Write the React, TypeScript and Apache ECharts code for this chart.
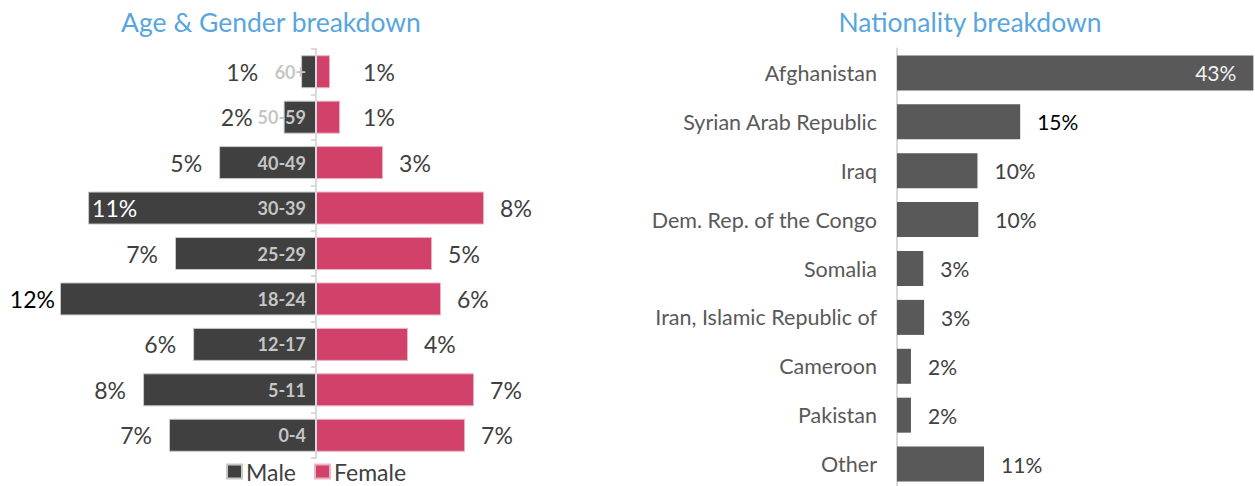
import React, { useEffect, useRef } from "react";
import * as echarts from "echarts";

const ageGroups = ["60+", "50-59", "40-49", "30-39", "25-29", "18-24", "12-17", "5-11", "0-4"];
const maleValues = [0.7, 1.52, 4.55, 10.7, 6.62, 12.02, 5.77, 8.12, 6.9];
const femaleValues = [0.66, 1.13, 3.15, 7.89, 5.45, 5.87, 4.32, 7.42, 7.0];

const countries = [
  "Afghanistan",
  "Syrian Arab Republic",
  "Iraq",
  "Dem. Rep. of the Congo",
  "Somalia",
  "Iran, Islamic Republic of",
  "Cameroon",
  "Pakistan",
  "Other",
];
const countryValues = [43.4, 15.0, 9.8, 9.9, 3.2, 3.3, 1.7, 1.7, 10.6];

const FONT = "Lato, 'Noto Sans', sans-serif";
const TITLE_BLUE = "#58a6dd";
const MALE = "#404040";
const FEMALE = "#d2416a";
const NAT = "#595959";

const pct = (v: number) => Math.round(Math.abs(v)) + "%";

export default function App() {
  const ref = useRef<HTMLDivElement>(null);
  useEffect(() => {
    if (!ref.current) return;
    const chart = echarts.init(ref.current, null, { renderer: "svg" });

    const maleLabelCfg: Record<number, any> = {
      0: { distance: 43 },
      1: { distance: 31 },
      3: { position: "insideLeft", distance: 4, color: "#ffffff" },
      5: { distance: 5, color: "#000000" },
    };
    const femaleLabelCfg: Record<number, any> = {
      0: { distance: 33 },
      1: { distance: 23 },
    };

    const maleData = maleValues.map((v, i) => ({
      value: v,
      label: maleLabelCfg[i] || {},
    }));
    const femaleData = femaleValues.map((v, i) => ({
      value: v,
      label: femaleLabelCfg[i] || {},
    }));
    const natData = countryValues.map((v, i) => ({
      value: v,
      label:
        i === 0
          ? { position: "insideRight", distance: 17, color: "#f2f2f2" }
          : i === 1
          ? { color: "#000000" }
          : {},
    }));

    const PX = 21.3;
    const CENTER = 316;
    const SPAN = 14;

    chart.setOption({
      animation: false,
      textStyle: { fontFamily: FONT },
      title: [
        {
          text: "Age & Gender breakdown",
          left: 266,
          textAlign: "center",
          top: 3,
          textStyle: { color: TITLE_BLUE, fontSize: 26.5, fontWeight: "normal", fontFamily: FONT },
        },
        {
          text: "Nationality breakdown",
          left: 965,
          textAlign: "center",
          top: 3,
          textStyle: { color: TITLE_BLUE, fontSize: 26.5, fontWeight: "normal", fontFamily: FONT },
        },
      ],
      legend: {
        data: ["Male", "Female"],
        left: 226,
        top: 460,
        itemWidth: 15,
        itemHeight: 14,
        itemGap: 18,
        icon: "rect",
        padding: 0,
        textStyle: { color: MALE, fontSize: 23, fontFamily: FONT, padding: [0, 0, 0, -1] },
      },
      grid: [
        { left: CENTER - SPAN * PX, width: SPAN * PX, top: 49, bottom: 28, outerBoundsMode: "none" },
        { left: CENTER, width: SPAN * PX, top: 49, bottom: 28, outerBoundsMode: "none" },
        { left: 897, right: 0, top: 48.5, bottom: -2.5, outerBoundsMode: "none" },
      ],
      xAxis: [
        { gridIndex: 0, type: "value", min: 0, max: SPAN, inverse: true, show: false },
        { gridIndex: 1, type: "value", min: 0, max: SPAN, show: false },
        { gridIndex: 2, type: "value", min: 0, max: 43.6, show: false },
      ],
      yAxis: [
        {
          gridIndex: 0,
          type: "category",
          data: ageGroups,
          inverse: true,
          position: "right",
          z: 10,
          axisLine: { show: true, lineStyle: { color: "#d9d9d9", width: 2 } },
          axisTick: { show: true, inside: true, length: 5, lineStyle: { color: "#d9d9d9", width: 2 } },
          axisLabel: {
            inside: true,
            margin: 10,
            color: "#c6c6c6",
            fontWeight: "bold",
            fontSize: 18,
            fontFamily: FONT,
          },
        },
        {
          gridIndex: 1,
          type: "category",
          data: ageGroups,
          inverse: true,
          show: false,
        },
        {
          gridIndex: 2,
          type: "category",
          data: countries,
          inverse: true,
          axisLine: { lineStyle: { color: "#d9d9d9", width: 2 } },
          axisTick: { show: false },
          axisLabel: { margin: 20, color: NAT, fontSize: 21.5, fontFamily: FONT },
        },
      ],
      series: [
        {
          name: "Male",
          type: "bar",
          xAxisIndex: 0,
          yAxisIndex: 0,
          barWidth: 33,
          data: maleData,
          itemStyle: { color: MALE, borderColor: "#c8c8c8", borderWidth: 1 },
          label: {
            show: true,
            position: "left",
            distance: 17,
            color: MALE,
            fontSize: 23,
            fontFamily: FONT,
            formatter: (p: any) => pct(p.value),
          },
        },
        {
          name: "Female",
          type: "bar",
          xAxisIndex: 1,
          yAxisIndex: 1,
          barWidth: 33,
          data: femaleData,
          itemStyle: { color: FEMALE, borderColor: "#eab4c3", borderWidth: 1 },
          label: {
            show: true,
            position: "right",
            distance: 16,
            color: MALE,
            fontSize: 23,
            fontFamily: FONT,
            formatter: (p: any) => pct(p.value),
          },
        },
        {
          name: "Nationality",
          type: "bar",
          xAxisIndex: 2,
          yAxisIndex: 2,
          barWidth: 35,
          data: natData,
          itemStyle: { color: NAT },
          label: {
            show: true,
            position: "right",
            distance: 17,
            color: MALE,
            fontSize: 21,
            fontFamily: FONT,
            formatter: (p: any) => pct(p.value),
          },
        },
      ],
    });
    return () => chart.dispose();
  }, []);
  return (
    <div
      ref={ref}
      style={{ position: "fixed", left: 0, top: 0, width: 1255, height: 486, background: "#ffffff" }}
    />
  );
}
